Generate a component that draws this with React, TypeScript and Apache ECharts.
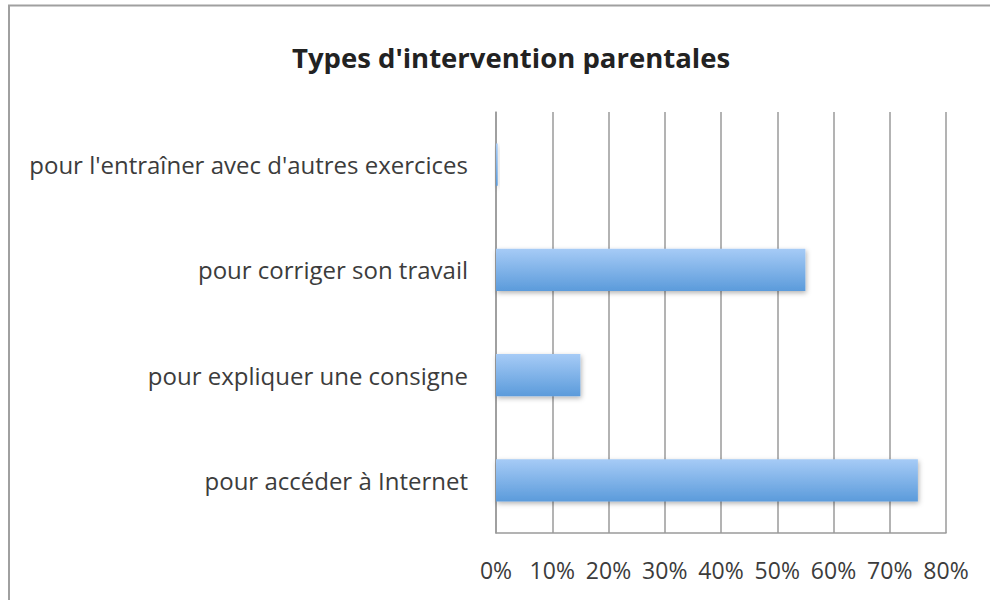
import React, { useEffect, useRef } from "react";
import * as echarts from "echarts";

const categories = [
  "pour accéder à Internet",
  "pour expliquer une consigne",
  "pour corriger son travail",
  "pour l'entraîner avec d'autres exercices",
];
const values = [75, 15, 55, 0.3];
const xTicks = { min: 0, max: 80, interval: 10 };

export default function App() {
  const ref = useRef<HTMLDivElement>(null);
  useEffect(() => {
    const chart = echarts.init(ref.current!, null, { renderer: "svg" });
    chart.setOption({
      animation: false,
      backgroundColor: "#ffffff",
      title: {
        text: "Types d'intervention parentales",
        left: 506,
        top: 38,
        textAlign: "center",
        textStyle: {
          fontFamily: "Open Sans",
          fontWeight: "bold",
          fontSize: 27.5,
          color: "#222222",
        },
      },
      graphic: [
        {
          type: "rect",
          shape: { x: 9, y: 5.5, width: 1000, height: 700 },
          style: { fill: "none", stroke: "#a0a0a0", lineWidth: 2 },
          silent: true,
        },
      ],
      grid: { left: 496, right: 44, top: 112, bottom: 67 },
      xAxis: {
        type: "value",
        min: xTicks.min,
        max: xTicks.max,
        interval: xTicks.interval,
        axisLine: { show: true, lineStyle: { color: "#9a9a9a", width: 1.5 } },
        axisTick: { show: false },
        splitLine: { show: true, lineStyle: { color: "#9a9a9a", width: 1.5 } },
        axisLabel: {
          formatter: "{value}%",
          margin: 25,
          fontFamily: "Open Sans",
          fontSize: 23,
          color: "#3c3c3c",
        },
      },
      yAxis: {
        type: "category",
        data: categories,
        axisLine: { show: true, lineStyle: { color: "#9a9a9a", width: 1.5 } },
        axisTick: { show: false },
        axisLabel: {
          margin: 28,
          fontFamily: "Open Sans",
          fontSize: 24,
          color: "#3c3c3c",
        },
      },
      series: [
        {
          type: "bar",
          data: values,
          barCategoryGap: "60%",
          itemStyle: {
            color: new echarts.graphic.LinearGradient(0, 0, 0, 1, [
              { offset: 0, color: "#a6cbf6" },
              { offset: 1, color: "#5b9bdb" },
            ]),
            shadowBlur: 5,
            shadowColor: "rgba(0,0,0,0.3)",
            shadowOffsetX: 1,
            shadowOffsetY: 2,
          },
        },
      ],
    });
    return () => chart.dispose();
  }, []);
  return <div ref={ref} style={{ width: 990, height: 600, position: "absolute", left: 0, top: 0 }} />;
}
